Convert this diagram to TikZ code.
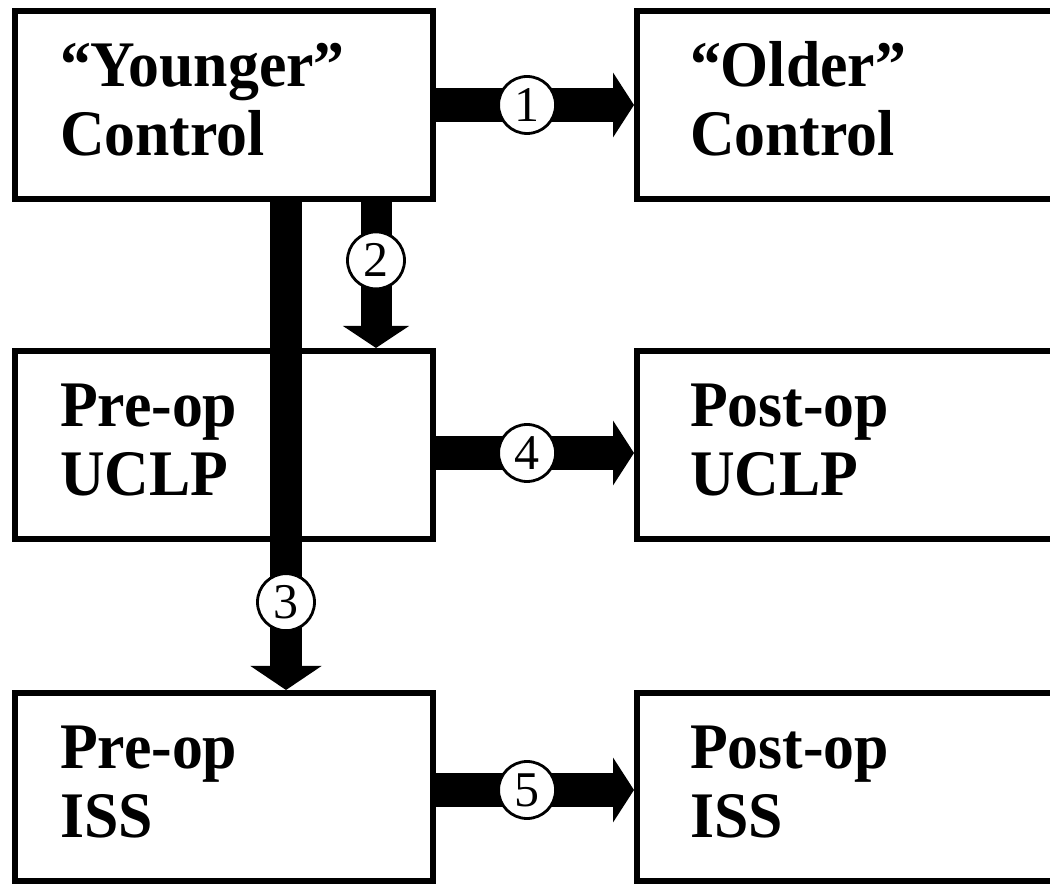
\documentclass[tikz,border=0pt]{standalone}
\usepackage{fontspec}
\setmainfont{Liberation Serif}
\newfontfamily\boxfont{Liberation Serif}[FakeStretch=0.95,Ligatures=TeX]
\usetikzlibrary{arrows.meta,positioning,calc}

\begin{document}
\begin{tikzpicture}[x=0.5pt,y=-0.5pt,
node distance=73pt and 99pt,
box/.style={rectangle, draw, line width=3pt, minimum width=209pt, text height=38pt, text depth=56pt,
inner ysep=0pt, text width=164pt, inner xsep=22.5pt, align=left, font=\boxfont\bfseries\fontsize{32.5}{34.5}\selectfont},
rbox/.style={box, text width=156pt, inner xsep=26.5pt},
flow/.style={line width=17pt, -{Triangle[length=10.5pt,width=32pt]}},
num/.style={circle, draw, fill=white, line width=1.4pt, minimum size=28.5pt,
inner sep=0pt, font=\fontsize{25}{25}\selectfont}]

\clip (0,0) rectangle (1050,886);

%boxes
\node[box] (young) at (224,105) {``Younger''\\Control};
\node[rbox, right=of young] (old) {``Older''\\Control};
\node[box, below=of young] (preU) {Pre-op\\UCLP};
\node[rbox, right=of preU] (postU) {Post-op\\UCLP};
\node[box, below=74pt of preU] (preI) {Pre-op\\ISS};
\node[rbox, right=of preI] (postI) {Post-op\\ISS};

%arrows
\draw[flow] (young) -- (old) node[num, pos=.46] {1};
\draw[flow, line width=15.5pt, -{Triangle[length=11pt,width=32.5pt]}]
($(young.south)+(152,0)$) -- ($(preU.north)+(152,0)$) node[num, pos=.4] {2};
\draw[flow, line width=16pt, -{Triangle[length=12pt,width=35pt]}]
($(young.south)+(62,0)$) -- ($(preI.north)+(62,0)$) node[num, pos=.82] {3};
\draw[flow] ($(preU.east)+(0,8)$) -- ($(postU.west)+(0,8)$) node[num, pos=.46] {4};
\draw[flow] ($(preI.east)+(0,3)$) -- ($(postI.west)+(0,3)$) node[num, pos=.46] {5};

\end{tikzpicture}
\end{document}
